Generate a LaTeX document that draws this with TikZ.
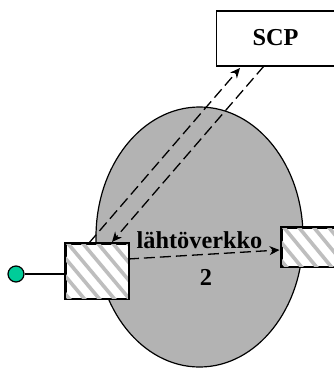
\documentclass[tikz,border=0pt]{standalone}
\usepackage{fontspec}
\setmainfont{Liberation Serif}
\usetikzlibrary{arrows.meta,shapes.geometric}
\definecolor{net}{RGB}{179,179,179}
\definecolor{stripe}{RGB}{190,190,190}
\definecolor{term}{RGB}{0,204,153}
\tikzset{
  x=1pt,y=-1pt,
  edge/.style={draw=black,line width=1.3pt},
  hatchbox/.style={draw=black,line width=1.6pt,fill=white,inner sep=0,anchor=north west},
  flow/.style={draw=black,line width=1.3pt,dash pattern=on 11pt off 5pt},
  tip/.style={-{Stealth[length=10pt,width=9pt]}},
  label/.style={font=\bfseries\fontsize{24.3}{26}\selectfont,inner sep=0},
  stripes/.style={stripe,line width=3.6pt}
}
\begin{document}
\begin{tikzpicture}
\useasboundingbox (0,0) rectangle (334,368);
\node[ellipse,draw=black,line width=1.2pt,fill=net,minimum width=207pt,minimum height=260pt,inner sep=0] (net) at (199.5,237) {};
\node[hatchbox,minimum width=63pt,minimum height=55pt] (src) at (65,243) {};
\begin{scope}
\clip (65,243) rectangle (128,298);
\foreach \i in {-5,...,6} \draw[stripes] ({65+\i*15},240) -- ({65+\i*15+52},302);
\end{scope}
\draw[line width=1.6pt] (src.north west) rectangle (src.south east);
\node[hatchbox,minimum width=56pt,minimum height=39pt] (dst) at (281,227) {};
\begin{scope}
\clip (281,227) rectangle (337,266);
\foreach \i in {-4,...,5} \draw[stripes] ({281+\i*15},224) -- ({281+\i*15+38},270);
\end{scope}
\draw[line width=1.6pt] (dst.north west) rectangle (dst.south east);
\node[draw=black,line width=1.5pt,fill=white,minimum width=120pt,minimum height=55pt,inner sep=0,anchor=north west] (scp) at (216,10) {};
\node[label] (scptext) at (275.5,38) {SCP};
\node[label] (nettext) at (199.5,240) {lähtöverkko};
\node[label] (num) at (206,277) {2};
\node[circle,draw=black,line width=1.2pt,fill=term,minimum size=16pt,inner sep=0] (t) at (16,274) {};
\draw[edge] (t) -- (t-|src.west);
\coordinate (a1) at (89,243);
\coordinate (a2) at (240,68);
\coordinate (b1) at (264,66);
\coordinate (b2) at (112,242);
\coordinate (c1) at (128,259);
\coordinate (c2) at (279.5,250);
\draw[flow,tip] (a1) -- (a2);
\draw[flow,tip] (b1) -- (b2);
\draw[flow,tip] (c1) -- (c2);
\end{tikzpicture}
\end{document}
